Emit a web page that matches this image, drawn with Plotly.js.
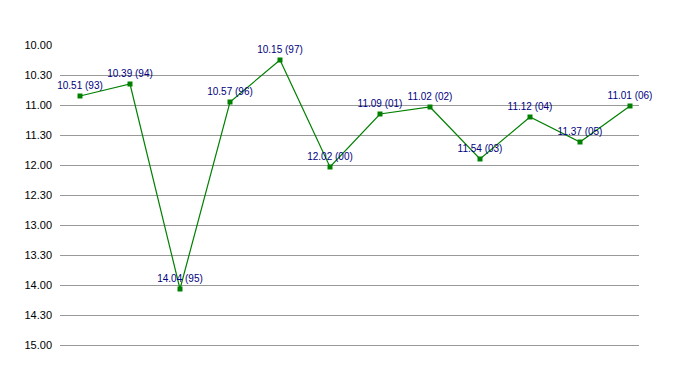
<!DOCTYPE html>
<html>
<head>
<meta charset="utf-8">
<script src="https://cdn.plot.ly/plotly-3.0.1.min.js"></script>
<style>html,body{margin:0;padding:0;background:#fff;}#chart{width:678px;height:375px;}</style>
</head>
<body>
<div id="chart"></div>
<script>
// Race times (min.sec) and season labels
var times = ["10.51", "10.39", "14.04", "10.57", "10.15", "12.02", "11.09", "11.02", "11.54", "11.12", "11.37", "11.01"];
var years = ["93", "94", "95", "96", "97", "00", "01", "02", "03", "04", "05", "06"];
var tickLabels = ["10.00", "10.30", "11.00", "11.30", "12.00", "12.30", "13.00", "13.30", "14.00", "14.30", "15.00"];

function toSeconds(s) { var p = s.split("."); return parseInt(p[0], 10) * 60 + parseInt(p[1], 10); }

var xs = times.map(function (_, i) { return i; });
var ys = times.map(toSeconds);
var labels = times.map(function (t, i) { return t + " (" + years[i] + ")"; });

var FONT = "'Liberation Sans Narrow', 'Arial Narrow', 'Liberation Sans', Arial, sans-serif";

var trace = {
  x: xs, y: ys, text: labels,
  mode: "lines+markers+text",
  textposition: "top center",
  textfont: {family: FONT, size: 10, color: "#000080"},
  line: {color: "#008000", width: 1.2},
  marker: {symbol: "square", size: 5, color: "#008000"},
  hoverinfo: "none", cliponaxis: false
};

var layout = {
  width: 678, height: 375,
  margin: {l: 60, r: 39, t: 45, b: 30},
  paper_bgcolor: "#fff", plot_bgcolor: "#fff",
  showlegend: false,
  font: {family: FONT, size: 11, color: "#000"},
  xaxis: {range: [-0.4, 11.18], showgrid: false, zeroline: false, showticklabels: false,
          showline: true, linecolor: "#999999", linewidth: 1, ticks: ""},
  yaxis: {
    range: [900, 600], tickmode: "array",
    tickvals: tickLabels.map(toSeconds), ticktext: tickLabels,
    showgrid: true, gridcolor: "#999999", gridwidth: 1, zeroline: false,
    showline: false, ticks: "", ticklabelstandoff: 7,
    tickfont: {family: FONT, size: 11, color: "#000"}
  }
};

Plotly.newPlot("chart", [trace], layout, {staticPlot: true, displayModeBar: false});
</script>
</body>
</html>
